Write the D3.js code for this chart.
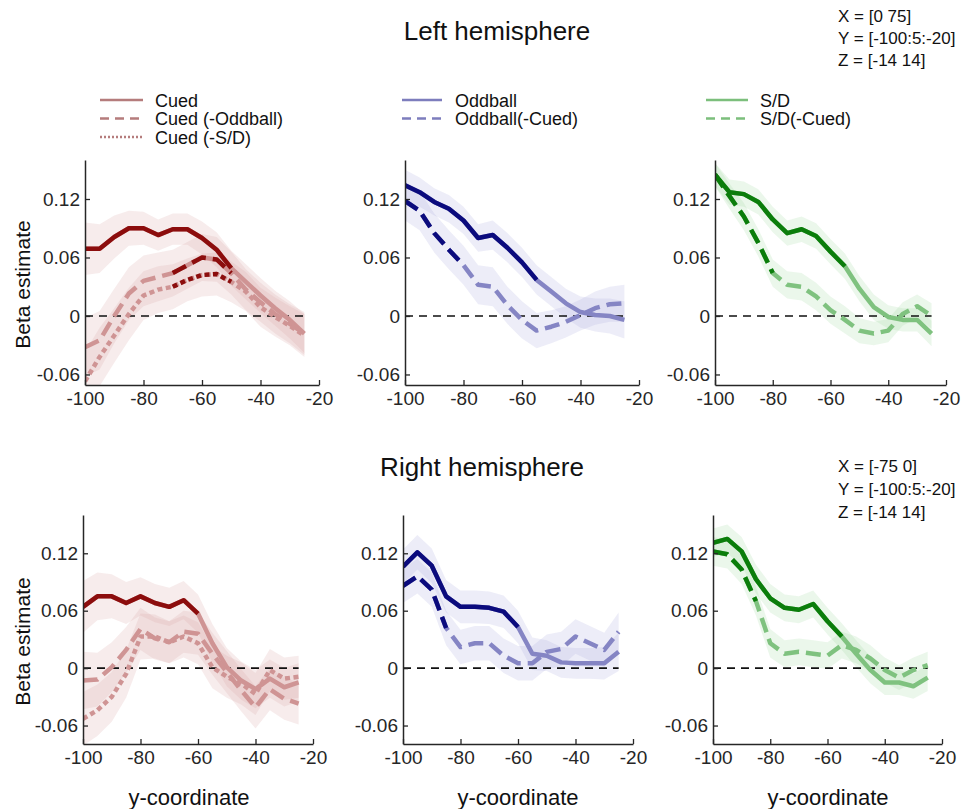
<!DOCTYPE html>
<html>
<head>
<meta charset="utf-8">
<script src="https://cdn.jsdelivr.net/npm/d3@7"></script>
<style>
  html, body { margin: 0; padding: 0; background: #fff; }
  svg { display: block; font-family: "Liberation Sans", Arial, Helvetica, sans-serif; }
</style>
</head>
<body>
<svg id="chart" width="966" height="809"></svg>
<script>
// ---------------- DATA ----------------
const yCoord = [-100,-95,-90,-85,-80,-75,-70,-65,-60,-55,-50,-45,-40,-35,-30,-25];
const xTicks = [-100,-80,-60,-40,-20];
const yTicks = [-0.06,0,0.06,0.12];

// Left hemisphere
const leftCued       = [0.069,0.069,0.081,0.090,0.090,0.083,0.089,0.089,0.080,0.068,0.049,0.035,0.021,0.008,-0.004,-0.018];
const leftCuedNoOdd  = [-0.032,-0.025,0.000,0.023,0.036,0.040,0.044,0.052,0.060,0.058,0.044,0.027,0.014,0.002,-0.008,-0.018];
const leftCuedNoSD   = [-0.067,-0.042,-0.020,0.002,0.021,0.027,0.030,0.037,0.042,0.043,0.035,0.025,0.009,-0.001,-0.010,-0.020];
const leftOdd        = [0.134,0.127,0.117,0.110,0.098,0.080,0.083,0.070,0.055,0.037,0.025,0.013,0.004,0.001,0.000,-0.004];
const leftOddNoCued  = [0.118,0.108,0.085,0.068,0.052,0.032,0.030,0.011,-0.004,-0.015,-0.011,-0.006,0.001,0.008,0.012,0.013];
const leftSD         = [0.145,0.127,0.125,0.117,0.099,0.085,0.089,0.082,0.066,0.051,0.028,0.009,-0.001,-0.004,-0.004,-0.018];
const leftSDNoCued   = [0.145,0.123,0.102,0.075,0.044,0.032,0.030,0.020,0.006,-0.004,-0.015,-0.018,-0.015,0.002,0.010,0.000];

const leftCuedCI      = [0.027,0.025,0.022,0.018,0.017,0.016,0.016,0.016,0.017,0.018,0.018,0.018,0.018,0.018,0.019,0.020];
const leftCuedNoOddCI = [0.030,0.030,0.028,0.027,0.026,0.025,0.024,0.024,0.024,0.023,0.022,0.021,0.020,0.020,0.020,0.022];
const leftCuedNoSDCI  = [0.030,0.030,0.028,0.027,0.025,0.024,0.023,0.022,0.022,0.022,0.021,0.020,0.020,0.020,0.020,0.022];
const leftOddCI       = [0.016,0.015,0.014,0.014,0.014,0.014,0.015,0.015,0.015,0.015,0.015,0.015,0.016,0.017,0.018,0.019];
const leftOddNoCuedCI = [0.020,0.020,0.020,0.020,0.020,0.020,0.020,0.019,0.019,0.018,0.017,0.016,0.016,0.017,0.018,0.019];
const leftSDCI        = [0.012,0.013,0.013,0.013,0.013,0.013,0.013,0.013,0.013,0.013,0.013,0.013,0.012,0.012,0.012,0.013];
const leftSDNoCuedCI  = [0.012,0.013,0.014,0.014,0.014,0.014,0.014,0.014,0.014,0.014,0.013,0.012,0.012,0.012,0.012,0.013];

// Right hemisphere
const rightCued      = [0.064,0.075,0.075,0.068,0.075,0.068,0.064,0.071,0.057,0.026,0.001,-0.013,-0.022,-0.011,-0.020,-0.015];
const rightCuedNoOdd = [-0.013,-0.012,0.001,0.019,0.041,0.031,0.027,0.038,0.036,0.015,-0.004,-0.023,-0.041,-0.022,-0.032,-0.037];
const rightCuedNoSD  = [-0.053,-0.044,-0.030,-0.006,0.033,0.033,0.027,0.033,0.026,0.001,-0.009,-0.016,-0.027,-0.002,-0.011,-0.009];
const rightOdd       = [0.106,0.121,0.107,0.075,0.064,0.064,0.063,0.059,0.043,0.015,0.013,0.006,0.005,0.005,0.005,0.017];
const rightOddNoCued = [0.086,0.096,0.082,0.042,0.022,0.026,0.026,0.013,0.005,0.005,0.017,0.020,0.033,0.026,0.019,0.038];
const rightSD        = [0.131,0.135,0.122,0.093,0.073,0.063,0.061,0.067,0.049,0.033,0.015,-0.002,-0.015,-0.015,-0.019,-0.010];
const rightSDNoCued  = [0.122,0.119,0.103,0.070,0.026,0.015,0.017,0.015,0.013,0.024,0.019,0.010,-0.002,-0.010,-0.002,0.003];

const rightCuedCI      = [0.027,0.025,0.023,0.022,0.020,0.020,0.020,0.020,0.020,0.020,0.020,0.020,0.020,0.020,0.020,0.020];
const rightCuedNoOddCI = [0.030,0.028,0.026,0.024,0.022,0.022,0.022,0.022,0.022,0.022,0.022,0.022,0.022,0.022,0.022,0.022];
const rightCuedNoSDCI  = [0.028,0.027,0.026,0.025,0.024,0.023,0.022,0.022,0.022,0.022,0.022,0.022,0.022,0.022,0.022,0.022];
const rightOddCI       = [0.018,0.018,0.018,0.017,0.017,0.017,0.017,0.017,0.017,0.017,0.016,0.016,0.016,0.016,0.017,0.020];
const rightOddNoCuedCI = [0.018,0.018,0.018,0.018,0.018,0.018,0.018,0.018,0.018,0.018,0.018,0.018,0.018,0.018,0.018,0.020];
const rightSDCI        = [0.015,0.015,0.015,0.015,0.015,0.014,0.014,0.014,0.014,0.014,0.014,0.014,0.013,0.013,0.013,0.014];
const rightSDNoCuedCI  = [0.015,0.015,0.015,0.015,0.015,0.014,0.014,0.014,0.014,0.014,0.014,0.014,0.013,0.013,0.013,0.014];

// significant (dark) ranges of y-coordinate, [from, to]
const sigLeftCued = [-100,-50], sigLeftCuedNoOdd = [-70,-50], sigLeftCuedNoSD = [-70,-50];
const sigLeftOdd = [-100,-55], sigLeftOddNoCued = [-100,-80];
const sigLeftSD = [-100,-55], sigLeftSDNoCued = [-100,-80];
const sigRightCued = [-100,-60], sigRightCuedNoOdd = null, sigRightCuedNoSD = null;
const sigRightOdd = [-100,-60], sigRightOddNoCued = [-100,-85];
const sigRightSD = [-100,-55], sigRightSDNoCued = [-100,-85];

const legendCued = ["Cued","Cued (-Oddball)","Cued (-S/D)"];
const legendOdd  = ["Oddball","Oddball(-Cued)"];
const legendSD   = ["S/D","S/D(-Cued)"];

// ---------------- STYLE ----------------
const COL = {
  red:   {dark:"#8c0d0d", light:"#cf9494", band:"#dcaaaa", legend:"#b57c7c"},
  blue:  {dark:"#0b0b7d", light:"#8585c4", band:"#adadde", legend:"#7d7dbd"},
  green: {dark:"#0b7d0b", light:"#7fc27f", band:"#a6dba6", legend:"#7cbf7c"}
};
const DASH = {solid:null, dashed:"15,7", dotted:"5,3.5"};
const FONT = '"Liberation Sans", Arial, Helvetica, sans-serif';

const svg = d3.select("#chart");

const rows = [
  {top:160, bottom:385, yDomain:[-0.0708,0.16], lefts:[85,405,715], widths:[234,234,231],
   panels:[
     {color:"red", series:[
        {v:leftCued, ci:leftCuedCI, style:"solid", sig:sigLeftCued},
        {v:leftCuedNoOdd, ci:leftCuedNoOddCI, style:"dashed", sig:sigLeftCuedNoOdd},
        {v:leftCuedNoSD, ci:leftCuedNoSDCI, style:"dotted", sig:sigLeftCuedNoSD}]},
     {color:"blue", series:[
        {v:leftOdd, ci:leftOddCI, style:"solid", sig:sigLeftOdd},
        {v:leftOddNoCued, ci:leftOddNoCuedCI, style:"dashed", sig:sigLeftOddNoCued}]},
     {color:"green", series:[
        {v:leftSD, ci:leftSDCI, style:"solid", sig:sigLeftSD},
        {v:leftSDNoCued, ci:leftSDNoCuedCI, style:"dashed", sig:sigLeftSDNoCued}]}
   ]},
  {top:515, bottom:744, yDomain:[-0.0793,0.16], lefts:[83,403,713], widths:[230,230,229],
   panels:[
     {color:"red", series:[
        {v:rightCued, ci:rightCuedCI, style:"solid", sig:sigRightCued},
        {v:rightCuedNoOdd, ci:rightCuedNoOddCI, style:"dashed", sig:sigRightCuedNoOdd},
        {v:rightCuedNoSD, ci:rightCuedNoSDCI, style:"dotted", sig:sigRightCuedNoSD}]},
     {color:"blue", series:[
        {v:rightOdd, ci:rightOddCI, style:"solid", sig:sigRightOdd},
        {v:rightOddNoCued, ci:rightOddNoCuedCI, style:"dashed", sig:sigRightOddNoCued}]},
     {color:"green", series:[
        {v:rightSD, ci:rightSDCI, style:"solid", sig:sigRightSD},
        {v:rightSDNoCued, ci:rightSDNoCuedCI, style:"dashed", sig:sigRightSDNoCued}]}
   ]}
];

let clipId = 0;
rows.forEach((row, ri) => {
  row.panels.forEach((p, pi) => {
    const x0 = row.lefts[pi], w = row.widths[pi];
    const x = d3.scaleLinear().domain([-100,-20]).range([x0, x0 + w]);
    const y = d3.scaleLinear().domain(row.yDomain).range([row.bottom, row.top]);
    const c = COL[p.color];
    const g = svg.append("g");

    const cid = "clip" + (clipId++);
    svg.append("clipPath").attr("id", cid).append("rect")
      .attr("x", x0).attr("y", row.top).attr("width", w).attr("height", row.bottom - row.top);
    const plot = g.append("g").attr("clip-path", `url(#${cid})`);

    // bands
    p.series.forEach(s => {
      const pts = yCoord.map((yc, i) => ({x: yc, v: s.v[i], c: s.ci[i]}));
      const area = d3.area().x(d => x(d.x)).y0(d => y(d.v - d.c)).y1(d => y(d.v + d.c));
      plot.append("path").attr("d", area(pts))
        .attr("fill", c.band).attr("fill-opacity", 0.22).attr("stroke", "none");
    });

    // zero line
    plot.append("line")
      .attr("x1", x(-100)).attr("x2", x(-25)).attr("y1", y(0)).attr("y2", y(0))
      .attr("stroke", "#111").attr("stroke-width", 1.6).attr("stroke-dasharray", "8,6");

    const line = d3.line().x(d => x(d.x)).y(d => y(d.v));
    // light full lines
    p.series.forEach(s => {
      const pts = yCoord.map((yc, i) => ({x: yc, v: s.v[i]}));
      plot.append("path").attr("d", line(pts)).attr("fill", "none")
        .attr("stroke", c.light).attr("stroke-width", 4.5)
        .attr("stroke-linejoin", "round")
        .attr("stroke-dasharray", DASH[s.style]);
    });
    // dark significant segments
    p.series.forEach(s => {
      if (!s.sig) return;
      const pts = yCoord.map((yc, i) => ({x: yc, v: s.v[i]}))
        .filter(d => d.x >= s.sig[0] && d.x <= s.sig[1]);
      plot.append("path").attr("d", line(pts)).attr("fill", "none")
        .attr("stroke", c.dark).attr("stroke-width", 4.5)
        .attr("stroke-linejoin", "round")
        .attr("stroke-dasharray", DASH[s.style]);
    });

    // axes
    const xAxis = d3.axisBottom(x).tickValues(xTicks).tickSizeInner(-5).tickSizeOuter(0).tickPadding(7)
      .tickFormat(d => String(d));
    const yAxis = d3.axisLeft(y).tickValues(yTicks).tickSizeInner(-5).tickSizeOuter(0).tickPadding(5)
      .tickFormat(d => d === 0 ? "0" : d.toFixed(2));
    const gx = g.append("g").attr("transform", `translate(0,${row.bottom})`).call(xAxis);
    const gy = g.append("g").attr("transform", `translate(${x0},0)`).call(yAxis);
    [gx, gy].forEach(a => {
      a.select(".domain").attr("stroke", "#262626").attr("stroke-width", 1.5);
      a.selectAll(".tick line").attr("stroke", "#262626").attr("stroke-width", 1.3);
      a.selectAll(".tick text").attr("fill", "#262626").style("font-size", "19px").style("font-family", FONT);
    });

    if (pi === 0) {
      const cy = (row.top + row.bottom) / 2 + 12;
      svg.append("text").attr("transform", `translate(22,${cy}) rotate(-90)`)
        .attr("text-anchor", "middle").attr("dominant-baseline", "central")
        .style("font-size", "21px").attr("fill", "#111").text("Beta estimate");
    }
    if (ri === 1) {
      svg.append("text").attr("x", [189, 518, 828][pi]).attr("y", 805)
        .attr("text-anchor", "middle").style("font-size", "22px").attr("fill", "#111")
        .text("y-coordinate");
    }
  });
});

// titles
svg.append("text").attr("x", 497).attr("y", 40).attr("text-anchor", "middle")
  .style("font-size", "26px").attr("fill", "#111").text("Left hemisphere");
svg.append("text").attr("x", 482).attr("y", 476).attr("text-anchor", "middle")
  .style("font-size", "26px").attr("fill", "#111").text("Right hemisphere");

// coordinate annotations
const annTop = ["X = [0 75]", "Y = [-100:5:-20]", "Z = [-14 14]"];
const annBot = ["X = [-75 0]", "Y = [-100:5:-20]", "Z = [-14 14]"];
annTop.forEach((t, i) => svg.append("text").attr("x", 838).attr("y", 22 + i * 22)
  .style("font-size", "17px").attr("fill", "#111").text(t));
annBot.forEach((t, i) => svg.append("text").attr("x", 838).attr("y", 472 + i * 23)
  .style("font-size", "17px").attr("fill", "#111").text(t));

// legends
const legends = [
  {x1:100, x2:143, tx:155, labels:legendCued, color:"red", styles:["solid","dashed","dotted"]},
  {x1:402, x2:442, tx:455, labels:legendOdd, color:"blue", styles:["solid","dashed"]},
  {x1:706, x2:748, tx:760, labels:legendSD, color:"green", styles:["solid","dashed"]}
];
const LDASH = {solid:null, dashed:"9,6", dotted:"2,2"};
legends.forEach(L => {
  L.labels.forEach((lab, i) => {
    const yy = 100 + i * 18.5;
    svg.append("line").attr("x1", L.x1).attr("x2", L.x2).attr("y1", yy).attr("y2", yy)
      .attr("stroke", COL[L.color].legend).attr("stroke-width", 2.6)
      .attr("stroke-dasharray", LDASH[L.styles[i]]);
    svg.append("text").attr("x", L.tx).attr("y", yy + 6.5)
      .style("font-size", "18px").attr("fill", "#111").text(lab);
  });
});
</script>
</body>
</html>
